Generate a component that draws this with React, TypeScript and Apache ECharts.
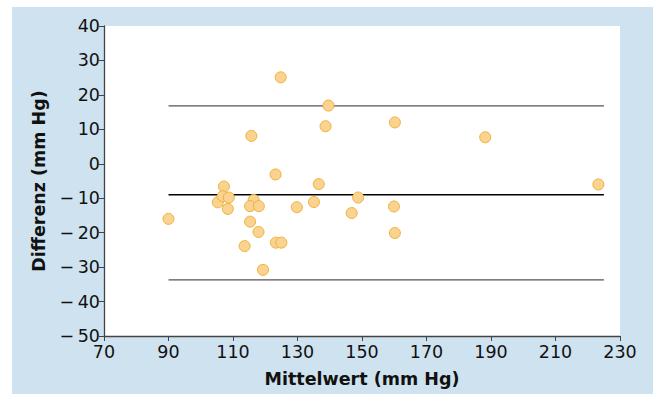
import React, { useEffect, useRef } from "react";
import * as echarts from "echarts";

const meanValues = [
  90, 124.8, 139.6, 138.7, 160.2, 188.2, 115.7, 123.2, 136.6, 223.3,
  107.2, 105.3, 106.8, 108.7, 108.4, 116.4, 115.3, 118.0, 129.8, 135.1,
  148.8, 146.8, 159.9, 160.2, 115.3, 117.9, 113.6, 123.3, 125.0, 119.3,
];
const diffValues = [
  -16, 25.1, 16.9, 10.9, 12.0, 7.7, 8.1, -3.1, -5.9, -6.0,
  -6.6, -11.2, -9.4, -9.8, -13.1, -10.5, -12.3, -12.3, -12.6, -11.1,
  -9.8, -14.3, -12.4, -20.1, -16.8, -19.8, -23.9, -22.9, -22.9, -30.8,
];
const lineRange = [90, 225];
const meanDiff = -9.0;
const upperLimit = 16.8;
const lowerLimit = -33.7;
const xTicks = { min: 70, max: 230, interval: 20 };
const yTicks = { min: -50, max: 40, interval: 10 };

const FONT = "DejaVu Sans";

export default function App() {
  const ref = useRef<HTMLDivElement>(null);
  useEffect(() => {
    if (!ref.current) return;
    const chart = echarts.init(ref.current, undefined, { renderer: "svg" });
    const hLine = (y: number, color: string, name: string) => ({
      type: "line",
      name,
      data: [
        [lineRange[0], y],
        [lineRange[1], y],
      ],
      showSymbol: false,
      symbol: "none",
      lineStyle: { color, width: 1.4 },
      z: 2,
      silent: true,
    });
    const fmt = (v: number) => (v < 0 ? "\u2212\u2009" + Math.abs(v) : String(v));
    chart.setOption({
      animation: false,
      backgroundColor: "#ffffff",
      graphic: [
        {
          type: "rect",
          shape: { x: 12, y: 7, width: 641, height: 387 },
          style: { fill: "#cfe2ef" },
          z: -10,
          silent: true,
        },
      ],
      grid: {
        left: 104,
        top: 26,
        width: 516,
        height: 310,
        show: true,
        backgroundColor: "#ffffff",
        borderWidth: 0,
      },
      xAxis: {
        type: "value",
        min: xTicks.min,
        max: xTicks.max,
        interval: xTicks.interval,
        name: "Mittelwert (mm Hg)",
        nameLocation: "middle",
        nameGap: 34,
        nameTextStyle: { fontFamily: FONT, fontWeight: "bold", fontSize: 17.5, color: "#111" },
        axisLine: { show: true, onZero: false, lineStyle: { color: "#444", width: 1.3 } },
        axisTick: { show: true, length: 5, lineStyle: { color: "#444" } },
        axisLabel: { fontFamily: FONT, fontSize: 17.5, color: "#111", margin: 7 },
        splitLine: { show: false },
      },
      yAxis: {
        type: "value",
        min: yTicks.min,
        max: yTicks.max,
        interval: yTicks.interval,
        name: "Differenz (mm Hg)",
        nameLocation: "middle",
        nameGap: 56,
        nameTextStyle: { fontFamily: FONT, fontWeight: "bold", fontSize: 17.5, color: "#111" },
        axisLine: { show: true, onZero: false, lineStyle: { color: "#444", width: 1.3 } },
        axisTick: { show: true, length: 5, lineStyle: { color: "#444" } },
        axisLabel: { fontFamily: FONT, fontSize: 17.5, color: "#111", margin: 4, formatter: fmt },
        splitLine: { show: false },
      },
      series: [
        hLine(upperLimit, "#555555", "upper"),
        hLine(meanDiff, "#000000", "mean"),
        hLine(lowerLimit, "#555555", "lower"),
        {
          type: "scatter",
          data: meanValues.map((x, i) => [x, diffValues[i]]),
          symbol: "circle",
          symbolSize: 11,
          itemStyle: { color: "#fad390", borderColor: "#f1b13a", borderWidth: 1, opacity: 1 },
          z: 5,
        },
      ],
    });
    return () => chart.dispose();
  }, []);
  return (
    <div
      ref={ref}
      style={{ position: "fixed", left: 0, top: 0, width: 653, height: 394 }}
    />
  );
}
